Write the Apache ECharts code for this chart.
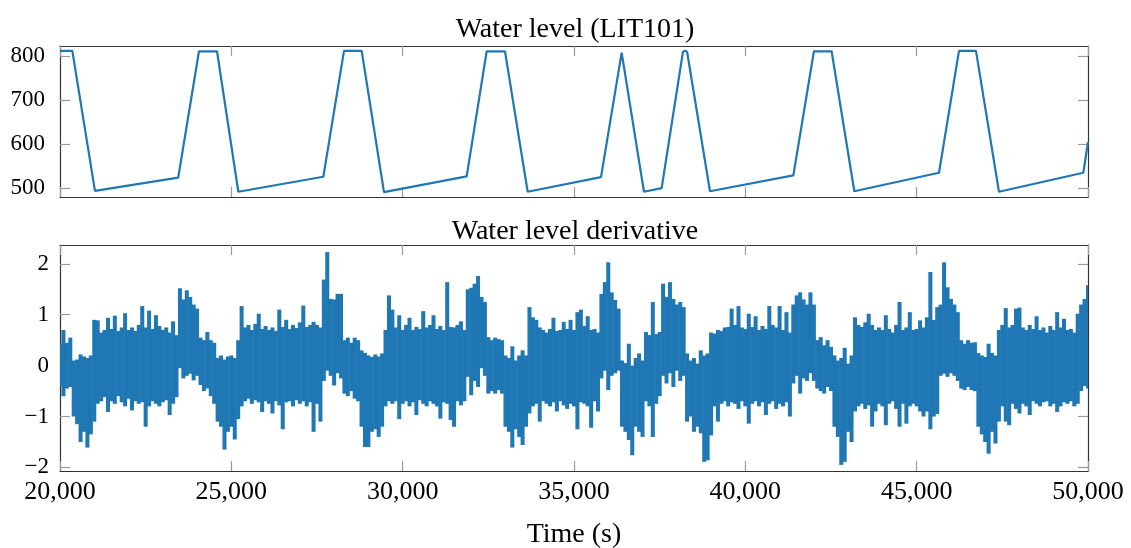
<!DOCTYPE html>
<html>
<head>
<meta charset="utf-8">
<script src="https://cdn.jsdelivr.net/npm/echarts@6/dist/echarts.min.js"></script>
<style>
html,body{margin:0;padding:0;background:#fff;}
#chart{width:1131px;height:548px;}
</style>
</head>
<body>
<div id="chart"></div>
<script>
// ---- Data ----
// Water level (LIT101): vertices of the trace (time in s, level)
const levelTimes = [20000,20360,21020,23450,24056,24582,25204,27685,28288,28804,29455,31868,32452,32986,33648,35788,36391,37042,37558,38180,38239,38300,38968,41401,42002,42518,43180,45652,46235,46731,47402,49863,50000];
const levelValues = [812,812,494,524,811,811,492,526,812,812,491,527,811,811,492,525,808,492,500,810,812,810,493,529,811,811,493,535,812,812,492,535,605];

// Water level derivative: one sample every 100 s starting at 20000 s;
// each sample holds the upper and the lower excursion of the trace
const derivStart = 20000;
const derivStep = 100;
const derivHigh = [
0.43,0.7,0.45,0.55,0.1,0.12,0.22,0.18,0.15,0.2,
0.9,0.89,0.65,0.7,0.94,0.72,0.98,0.68,0.75,1.03,
0.7,0.75,0.68,0.8,1.17,0.75,1.08,0.72,0.99,0.78,
0.7,0.75,0.65,0.87,0.6,1.52,1.3,1.48,1.35,1.2,
1.12,0.55,0.5,0.66,0.5,0.45,0.15,0.2,0.12,0.18,
0.2,0.15,0.5,1.17,0.75,0.8,0.7,0.82,1.02,0.72,
0.78,0.7,0.75,0.68,1.1,0.76,0.9,0.72,0.8,0.74,
0.85,1.18,0.76,0.8,0.86,0.8,0.75,1.69,2.23,1.31,
1.3,1.41,1.41,0.5,0.55,0.45,0.55,0.5,0.3,0.25,
0.2,0.17,0.22,0.18,0.24,0.7,1.38,1.1,0.75,0.99,
0.7,0.8,0.94,0.7,0.76,0.72,1.07,0.75,0.8,0.99,
0.72,0.78,0.7,1.64,0.76,0.75,0.8,0.87,0.7,1.5,
1.53,1.61,1.76,1.35,1.25,0.56,0.5,0.55,0.52,0.5,
0.2,0.15,0.38,0.1,0.2,0.3,0.2,1.15,0.95,0.9,
0.75,0.7,0.65,0.72,0.94,0.68,0.7,0.86,0.72,0.9,
0.7,1.05,1.1,0.78,0.97,0.7,0.72,0.65,1.41,1.64,
2.03,1.44,1.29,1.12,0.1,0.05,0.43,0.0,0.15,0.24,
0.1,0.66,0.6,1.25,0.62,0.66,1.61,1.35,1.64,1.31,
1.2,1.25,1.15,0.24,0.1,0.15,0.04,0.3,0.2,0.24,
0.65,0.63,0.7,0.68,0.75,0.76,1.12,0.8,1.17,0.75,
0.72,1.02,0.76,0.97,0.7,0.78,0.72,1.17,0.8,0.75,
1.17,0.7,1.05,0.65,1.2,1.38,1.44,1.3,1.2,1.44,
1.2,0.5,0.56,0.4,0.5,0.37,0.2,0.1,0.15,0.35,
0.04,0.2,0.95,0.8,0.76,0.85,1.02,0.8,0.7,0.75,
0.7,0.99,0.72,0.65,0.8,1.25,0.7,0.75,1.05,0.7,
0.72,0.89,0.75,0.95,1.84,0.9,1.15,1.2,2.03,1.54,
1.31,1.2,1.05,0.5,0.43,0.5,0.45,0.46,0.25,0.2,
0.17,0.43,0.25,0.2,0.7,0.8,1.13,0.75,0.8,1.12,
1.14,0.75,0.7,0.8,0.72,0.97,0.7,0.75,0.65,0.78,
0.7,1.05,0.75,0.92,0.7,0.72,0.65,1.02,1.2,1.31,
1.58
];
const derivLow = [
-0.4,-0.6,-0.45,-0.42,-1.0,-1.15,-1.5,-1.3,-1.61,-1.35,
-1.1,-0.75,-0.7,-0.62,-0.91,-0.7,-0.75,-0.6,-0.72,-0.8,
-0.65,-0.88,-0.7,-0.75,-0.72,-1.2,-0.8,-0.7,-0.75,-0.8,
-0.72,-0.68,-0.97,-0.75,-0.62,-0.05,-0.25,-0.2,-0.16,-0.29,
-0.2,-0.38,-0.5,-0.45,-0.6,-0.75,-1.1,-1.2,-1.65,-1.3,
-1.2,-1.45,-1.05,-0.8,-0.7,-0.65,-0.75,-0.68,-0.72,-0.91,
-0.7,-0.75,-0.94,-0.7,-0.78,-1.25,-0.72,-0.7,-0.8,-0.68,
-0.75,-0.7,-0.8,-0.72,-1.3,-0.75,-1.1,-0.3,-0.1,-0.2,
-0.39,-0.15,-0.25,-0.55,-0.6,-0.5,-0.65,-0.7,-1.2,-1.6,
-1.6,-1.3,-1.25,-1.4,-1.2,-0.8,-0.7,-0.75,-0.7,-1.05,
-0.75,-0.7,-0.8,-0.72,-0.97,-0.68,-0.75,-0.8,-0.7,-0.75,
-0.8,-1.04,-0.72,-0.75,-1.07,-1.2,-0.7,-0.78,-0.7,-0.22,
-0.58,-0.3,-0.42,-0.05,-0.2,-0.55,-0.5,-0.55,-0.48,-0.55,
-1.2,-1.3,-1.61,-1.25,-1.4,-1.56,-1.2,-0.94,-0.8,-0.75,
-1.1,-0.7,-0.75,-0.8,-0.72,-0.9,-0.7,-0.78,-0.85,-0.75,
-0.8,-1.25,-0.72,-0.75,-0.8,-1.22,-0.7,-0.9,-0.25,-0.1,
-0.48,-0.2,-0.15,-0.1,-1.2,-1.3,-1.46,-1.76,-1.2,-1.3,
-1.4,-0.7,-0.8,-1.4,-0.75,-0.6,-0.2,-0.35,-0.15,-0.42,
-0.1,-0.3,-0.2,-1.1,-1.0,-1.3,-1.2,-1.33,-1.89,-1.86,
-1.37,-0.8,-1.1,-0.75,-0.7,-0.8,-0.72,-0.75,-0.85,-0.7,
-0.8,-1.14,-0.75,-0.7,-0.8,-0.72,-0.97,-0.75,-0.7,-0.85,
-0.75,-0.8,-0.72,-1.0,-0.35,-0.2,-0.55,-0.25,-0.3,-0.15,
-0.3,-0.45,-0.5,-0.55,-0.42,-0.5,-1.2,-1.4,-1.95,-1.89,
-1.3,-1.5,-0.9,-0.8,-0.75,-0.85,-0.78,-1.2,-0.9,-0.75,
-0.8,-1.17,-0.75,-0.7,-0.85,-1.2,-0.75,-1.14,-0.8,-0.75,
-0.8,-0.9,-1.0,-0.9,-1.25,-1.0,-0.95,-0.2,-0.16,-0.22,
-0.15,-0.2,-0.3,-0.45,-0.48,-0.42,-0.48,-0.5,-1.2,-1.35,
-1.5,-1.73,-1.3,-1.53,-1.1,-0.8,-1.1,-1.17,-0.75,-0.85,
-0.94,-0.75,-0.8,-0.97,-0.7,-0.75,-0.8,-0.72,-0.7,-0.8,
-0.75,-0.91,-0.8,-0.72,-0.75,-0.7,-0.8,-0.75,-0.5,-0.4,
-0.45
];

// Axis ticks
const timeTicks = [20000,25000,30000,35000,40000,45000,50000];
const levelTicks = [500,600,700,800];
const derivTicks = [-2,-1,0,1,2];

// Titles / labels
const topTitle = 'Water level (LIT101)';
const bottomTitle = 'Water level derivative';
const xName = 'Time (s)';

// ---- Build series data ----
const levelData = levelTimes.map((t, i) => [t, levelValues[i]]);
const derivData = derivHigh.map((h, i) => [derivStart + i * derivStep, h, derivLow[i]]);

const FONT = '"Liberation Serif", "DejaVu Serif", serif';
const BLUE = '#1f77b4';
const BOX = '#333333';
const TICK = '#9a9a9a';

function fmtThousands(v) {
  return String(Math.round(v)).replace(/\B(?=(\d{3})+(?!\d))/g, ',');
}
function fmtMinus(v) {
  return String(v).replace('-', '\u2212');
}

function xAx(grid, pos, showLabels) {
  return {
    type: 'value', gridIndex: grid, position: pos,
    min: 20000, max: 50000,
    axisLine: { show: true, onZero: false, lineStyle: { color: BOX, width: 1.2 } },
    axisTick: { show: true, inside: true, length: 10, customValues: timeTicks, lineStyle: { color: TICK, width: 1.2 } },
    axisLabel: {
      show: showLabels, customValues: timeTicks, margin: 8,
      formatter: fmtThousands, color: '#000', fontFamily: FONT, fontSize: 26
    },
    splitLine: { show: false },
    name: (showLabels ? xName : ''),
    nameLocation: 'middle', nameGap: 50,
    nameTextStyle: { color: '#000', fontFamily: FONT, fontSize: 28 }
  };
}
function yAx(grid, pos, min, max, ticks, showLabels, margin) {
  return {
    type: 'value', gridIndex: grid, position: pos,
    min: min, max: max,
    axisLine: { show: true, onZero: false, lineStyle: { color: BOX, width: 1.2 } },
    axisTick: { show: true, inside: true, length: 10, customValues: ticks, lineStyle: { color: TICK, width: 1.2 } },
    axisLabel: {
      show: showLabels, customValues: ticks, margin: margin,
      formatter: fmtMinus, color: '#000', fontFamily: FONT, fontSize: 23
    },
    splitLine: { show: false }
  };
}

const chart = echarts.init(document.getElementById('chart'), null, { renderer: 'canvas' });
chart.setOption({
  animation: false,
  backgroundColor: '#fff',
  grid: [
    { left: 60, right: 43, top: 46, height: 151, containLabel: false, outerBoundsMode: 'none' },
    { left: 60, right: 43, top: 245, height: 226, containLabel: false, outerBoundsMode: 'none' }
  ],
  xAxis: [
    xAx(0, 'bottom', false),
    xAx(0, 'top', false),
    xAx(1, 'bottom', true),
    xAx(1, 'top', false)
  ],
  yAxis: [
    yAx(0, 'left', 480, 823, levelTicks, true, 15),
    yAx(0, 'right', 480, 823, levelTicks, false, 15),
    yAx(1, 'left', -2.07, 2.37, derivTicks, true, 11),
    yAx(1, 'right', -2.07, 2.37, derivTicks, false, 11)
  ],
  graphic: [
    { type: 'text', x: 575, y: 30, style: { text: topTitle, font: '28px ' + FONT, fill: '#000', textAlign: 'center', textVerticalAlign: 'middle' } },
    { type: 'text', x: 575, y: 232, style: { text: bottomTitle, font: '28px ' + FONT, fill: '#000', textAlign: 'center', textVerticalAlign: 'middle' } }
  ],
  series: [
    {
      type: 'line', xAxisIndex: 0, yAxisIndex: 0, data: levelData,
      showSymbol: false, symbol: 'none', sampling: null,
      lineStyle: { color: BLUE, width: 2.2 }, itemStyle: { color: BLUE }
    },
    {
      type: 'custom', xAxisIndex: 2, yAxisIndex: 2, data: derivData,
      encode: { x: 0, y: [1, 2] }, clip: true,
      renderItem: function (params, api) {
        const t = api.value(0);
        const p1 = api.coord([t - derivStep / 2, api.value(1)]);
        const p2 = api.coord([t + derivStep / 2, api.value(2)]);
        return {
          type: 'rect',
          shape: { x: p1[0] - 0.3, y: p1[1], width: p2[0] - p1[0] + 0.6, height: p2[1] - p1[1] },
          style: { fill: BLUE }
        };
      }
    }
  ]
});
</script>
</body>
</html>
